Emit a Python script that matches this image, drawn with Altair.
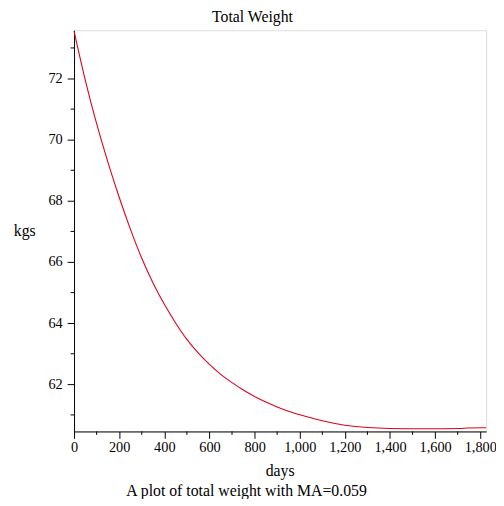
import altair as alt
import pandas as pd

# Data
days = [0, 50, 100, 150, 200, 250, 300, 350, 400, 450, 500, 550, 600, 650, 700,
        750, 800, 850, 900, 950, 1000, 1100, 1200, 1300, 1400, 1500, 1600, 1727,
        1728, 1826]
weight = [73.55, 71.9, 70.5, 69.25, 68.1, 67.05, 66.1, 65.3, 64.6, 64.0, 63.45,
          63.02, 62.64, 62.32, 62.05, 61.81, 61.6, 61.42, 61.26, 61.12, 61.0, 60.8,
          60.65, 60.58, 60.55, 60.55, 60.55, 60.55, 60.58, 60.58]

x_major = [0, 200, 400, 600, 800, 1000, 1200, 1400, 1600, 1800]
x_minor = [100, 300, 500, 700, 900, 1100, 1300, 1500, 1700]
y_major = [62, 64, 66, 68, 70, 72]
y_minor = [61, 63, 65, 67, 69, 71, 73]

title_text = "Total Weight"
x_title = "days"
y_title = "kgs"
caption = "A plot of total weight with MA=0.059"

W, H = 418, 407
FONT = "Liberation Serif"

df = pd.DataFrame({"days": days, "weight": weight})
xs = alt.Scale(domain=[0, 1826], nice=False, zero=False)
ys = alt.Scale(domain=[60.46, 73.58], nice=False, zero=False)

line = alt.Chart(df).mark_line(color="#e0001b", strokeWidth=1.1, clip=False,
                               interpolate="basis").encode(
    x=alt.X("days:Q", scale=xs, axis=alt.Axis(
        values=x_major, format=",d", title=None, grid=False, tickSize=7,
        labelPadding=2, labelFont=FONT, labelFontSize=14.5, labelColor="black",
        domainColor="black", tickColor="black", labelFlush=False)),
    y=alt.Y("weight:Q", scale=ys, axis=alt.Axis(
        values=y_major, title=None, grid=False, tickSize=7,
        labelPadding=5, labelFont=FONT, labelFontSize=14.5, labelColor="black",
        domainColor="black", tickColor="black", labelFlush=False)),
)

ymin = alt.Chart(pd.DataFrame({"v": y_minor})).mark_rule(color="black", strokeWidth=1).encode(
    y=alt.Y("v:Q", scale=ys), x=alt.value(-3.5), x2=alt.value(0))
xmin = alt.Chart(pd.DataFrame({"v": x_minor})).mark_rule(color="black", strokeWidth=1).encode(
    x=alt.X("v:Q", scale=xs), y=alt.value(H), y2=alt.value(H + 3.5))


def label(txt, x, y, size=16):
    return alt.Chart(pd.DataFrame({"t": [txt]})).mark_text(
        font=FONT, fontSize=size, color="black", align="center", baseline="alphabetic"
    ).encode(text="t:N", x=alt.value(x), y=alt.value(y))


chart = alt.layer(
    line, ymin, xmin,
    label(title_text, 181, -8),
    label(y_title, -50, 209),
    label(x_title, 209, 452),
    label(caption, 175, 472.5),
).properties(
    width=W, height=H,
    autosize=alt.AutoSizeParams(type="none"),
    padding={"left": 67, "top": 19, "right": 10, "bottom": 65},
).configure_view(strokeWidth=0, strokeOpacity=0).configure(background="white")

chart.save("out.html", embed_options={"renderer": "svg", "actions": False})
